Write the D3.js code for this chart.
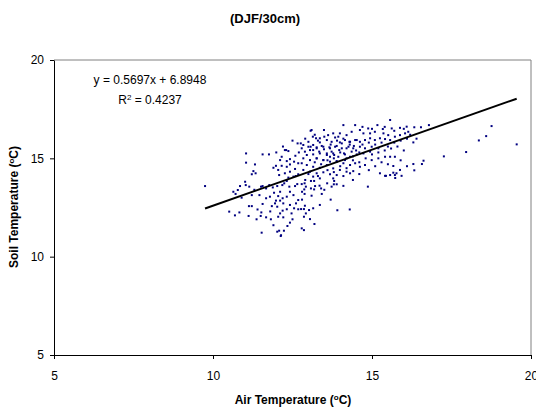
<!DOCTYPE html>
<html>
<head>
<meta charset="utf-8">
<script src="https://cdn.jsdelivr.net/npm/d3@7/dist/d3.min.js"></script>
<style>
  body { margin: 0; background: #fff; }
  text { font-family: "Liberation Sans", Arial, sans-serif; }
</style>
</head>
<body>
<div id="main"></div>
<script>
const ctx = {
    WIDTH: 536,
    HEIGHT: 413,
};

// axis ticks
const xTicks = [5, 10, 15, 20];
const yTicks = [5, 10, 15, 20];

// linear trend shown on the chart: y = slope*x + intercept
const trendCoef = [0.5697, 6.8948];
const rSquared = 0.4237;

// [air temperature, soil temperature]
const obs = [
    [9.75, 13.59], [10.51, 12.29], [10.69, 12.10], [10.83, 12.25], [10.64, 13.30],
    [10.71, 13.19], [10.78, 13.39], [10.85, 13.59], [11.01, 13.81], [11.03, 13.64],
    [11.14, 13.56], [11.22, 13.13], [11.46, 13.13], [11.51, 13.56], [11.56, 13.59],
    [11.67, 13.47], [11.77, 13.64], [11.88, 13.52], [11.92, 13.25], [12.02, 13.59],
    [12.11, 13.30], [12.18, 13.64], [12.24, 13.73], [12.32, 13.85], [12.40, 13.56],
    [12.42, 13.30], [12.53, 13.13], [12.58, 13.59], [12.65, 13.69], [12.68, 12.88],
    [11.79, 13.05], [11.67, 12.97], [12.05, 13.08], [12.11, 12.85], [12.21, 12.71],
    [12.42, 12.63], [11.98, 12.85], [12.19, 12.97], [12.32, 13.05], [11.13, 12.57],
    [11.22, 12.57], [11.12, 12.07], [11.37, 11.90], [11.50, 12.07], [11.52, 12.25],
    [11.56, 12.68], [11.67, 12.00], [11.82, 11.90], [11.85, 12.57], [11.95, 12.71],
    [12.02, 12.54], [12.11, 12.20], [12.19, 12.34], [12.32, 12.41], [12.47, 12.20],
    [12.55, 12.46], [12.68, 12.41], [12.61, 12.71], [12.05, 12.03], [12.21, 12.00],
    [11.53, 11.22], [12.02, 11.27], [12.08, 11.32], [12.13, 11.05], [12.23, 11.32],
    [12.34, 11.56], [12.42, 11.73], [12.14, 11.09],
    [11.04, 15.25], [11.04, 14.78], [11.32, 14.69], [11.56, 15.20], [11.76, 15.20],
    [11.99, 15.30], [12.26, 15.42], [12.37, 15.37], [12.66, 15.76], [12.59, 15.13],
    [12.42, 14.96], [12.32, 14.86], [12.16, 15.08], [12.11, 14.91], [11.90, 14.52],
    [11.98, 14.62], [12.16, 14.62], [12.32, 14.57], [12.42, 14.69], [12.55, 14.83],
    [12.68, 14.75], [12.08, 14.15], [12.26, 14.24], [12.42, 14.32], [12.58, 14.46],
    [11.27, 14.35], [11.22, 14.19], [11.34, 14.24], [12.05, 14.41], [12.37, 14.02],
    [12.53, 14.07], [12.68, 14.19], [12.76, 15.76], [12.30, 15.42], [13.07, 16.40],
    [12.79, 13.69], [12.88, 13.73], [13.08, 13.85], [13.18, 13.85], [12.80, 13.30],
    [12.87, 13.42], [12.92, 13.56], [12.88, 13.19], [13.08, 13.47], [13.18, 13.42],
    [13.21, 13.59], [13.35, 13.61], [13.40, 13.47], [13.42, 13.19], [13.59, 13.73],
    [13.73, 13.56], [13.80, 13.68], [13.89, 13.68], [13.81, 13.85], [14.87, 13.56],
    [12.89, 12.59], [12.77, 12.42], [12.86, 12.42], [13.02, 12.37], [13.15, 12.46],
    [13.36, 12.63], [13.91, 12.36], [12.92, 12.20], [12.86, 12.03], [13.05, 11.91],
    [13.19, 11.66], [12.79, 11.44], [12.86, 11.35],
    [15.57, 16.95], [15.17, 16.69], [14.47, 16.69], [14.10, 16.69], [14.88, 16.52],
    [15.34, 16.49], [15.62, 16.52], [15.88, 16.55], [16.09, 16.61], [13.49, 16.44],
    [13.10, 16.44], [13.24, 16.02], [13.78, 16.27], [13.94, 16.10], [14.20, 16.18],
    [14.36, 16.35], [14.62, 16.44], [14.73, 16.27], [14.94, 16.27], [15.09, 16.35],
    [15.36, 16.27], [15.51, 16.18], [15.72, 16.10], [15.88, 16.18], [16.04, 16.27],
    [16.14, 16.35], [15.25, 16.02], [15.41, 15.98], [15.57, 15.93], [15.09, 15.93],
    [14.94, 16.02], [14.78, 15.93], [14.62, 15.84], [14.47, 15.93], [14.31, 15.84],
    [14.15, 15.93], [13.99, 15.81], [13.73, 15.84], [13.58, 15.93], [13.36, 15.81],
    [13.15, 15.68], [13.00, 15.59], [12.84, 15.68], [12.79, 15.51], [13.05, 15.42],
    [13.26, 15.51], [13.47, 15.59], [13.68, 15.51], [13.84, 15.59], [14.05, 15.51],
    [14.26, 15.59], [14.41, 15.51], [14.62, 15.59], [14.78, 15.51], [14.99, 15.59],
    [15.20, 15.51], [14.94, 15.34], [14.73, 15.25], [14.52, 15.20], [15.41, 15.08],
    [15.57, 15.08], [15.72, 15.08], [15.20, 15.00], [14.99, 14.91], [12.89, 15.34],
    [12.95, 15.17], [13.15, 15.20], [13.36, 15.25], [13.58, 15.17], [13.78, 15.25],
    [13.94, 15.08], [14.15, 15.20], [14.31, 15.08], [12.84, 15.00], [13.05, 14.91],
    [13.26, 15.00], [13.47, 14.91], [13.68, 14.83], [13.89, 14.86], [14.10, 14.75],
    [14.31, 14.66], [14.47, 14.75], [14.62, 14.57], [14.78, 14.66], [12.79, 14.75],
    [12.95, 14.66], [13.15, 14.57], [13.36, 14.52], [13.58, 14.66], [13.78, 14.49],
    [13.99, 14.41], [14.20, 14.32], [14.41, 14.35], [12.84, 14.41], [13.05, 14.32],
    [13.26, 14.24], [13.47, 14.29], [13.68, 14.19], [13.89, 14.15], [13.15, 14.07],
    [13.36, 13.98], [13.78, 13.98], [15.41, 14.11], [15.57, 14.15], [15.72, 14.15],
    [15.25, 14.24], [15.88, 14.41], [15.77, 14.24],
    [13.07, 15.59], [13.15, 15.42], [13.26, 15.56], [13.34, 15.34], [13.42, 15.63],
    [13.49, 15.46], [13.58, 15.25], [13.66, 15.56], [13.73, 15.34], [13.81, 15.17],
    [13.89, 15.63], [13.97, 15.42], [14.05, 15.76], [14.12, 15.25], [14.20, 15.51],
    [14.29, 15.84], [14.36, 15.34], [14.43, 15.63], [14.52, 15.93], [13.26, 15.00],
    [13.47, 14.91], [13.68, 15.08], [13.89, 14.83], [14.15, 14.91], [13.00, 15.84],
    [13.14, 16.10], [13.36, 16.02], [13.62, 16.18], [13.84, 16.06], [13.99, 16.27],
    [16.33, 16.58], [16.54, 16.58], [16.79, 16.69], [16.30, 15.81], [18.76, 16.64],
    [18.59, 16.13], [18.36, 15.91], [19.55, 15.71], [17.96, 15.32], [17.26, 15.10],
    [16.62, 14.88], [16.57, 14.71], [16.30, 14.71], [16.33, 14.39], [15.44, 14.11],
    [15.67, 14.27], [15.73, 14.00], [15.93, 14.11], [15.67, 14.61], [14.31, 14.24],
    [13.30, 15.90], [13.50, 16.10], [13.70, 15.70], [13.90, 15.90], [14.10, 16.00],
    [14.30, 15.70], [14.50, 15.40], [14.70, 15.70], [14.90, 15.80], [15.10, 15.70],
    [15.30, 15.80], [15.50, 15.60], [15.70, 15.80], [15.90, 15.90], [16.10, 16.00],
    [14.00, 15.30], [14.20, 15.00], [14.40, 15.10], [14.60, 15.30], [14.80, 15.00],
    [15.00, 15.20], [15.20, 15.30], [15.40, 15.40], [15.60, 15.50], [15.80, 15.60],
    [13.20, 14.80], [13.40, 14.70], [13.60, 14.90], [13.80, 15.00], [14.00, 14.60],
    [14.20, 14.50], [14.40, 14.90], [14.60, 14.80], [14.90, 14.40], [15.10, 14.60],
    [15.30, 14.80], [15.50, 14.70], [13.00, 14.20], [13.30, 14.10], [13.60, 14.40],
    [13.80, 14.30], [14.10, 14.10], [14.40, 13.90], [14.60, 14.20], [12.90, 16.00],
    [13.20, 16.20], [14.70, 16.60], [15.00, 16.50], [15.40, 16.60], [15.70, 16.40],
    [16.00, 16.50], [16.20, 16.20], [16.40, 16.00], [16.00, 15.40], [15.90, 14.90],
    [16.10, 14.60], [12.70, 15.30], [12.50, 15.90], [12.20, 15.60], [12.60, 14.10],
    [12.90, 13.90], [13.50, 13.40], [13.70, 12.90], [14.10, 13.60], [14.30, 12.40],
    [12.50, 11.90], [11.90, 11.60], [11.80, 12.30], [11.40, 12.40], [10.90, 13.00],
    [11.30, 13.40], [12.80, 12.90], [13.10, 13.10]
];

const X = d3.scaleLinear().domain([5, 20]).range([54, 531]);
const Y = d3.scaleLinear().domain([5, 20]).range([355, 60]);

function createViz(){
    let svgEl = d3.select("#main").append("svg")
        .attr("width", ctx.WIDTH)
        .attr("height", ctx.HEIGHT);

    // title
    svgEl.append("text")
        .attr("x", 265).attr("y", 23)
        .attr("text-anchor", "middle")
        .style("font-size", "13px").style("font-weight", "bold")
        .text("(DJF/30cm)");

    // plot frame: grey top and right edges
    svgEl.append("path")
        .attr("d", `M${X(5)},${Y(20)}H${X(20)}V${Y(5)}`)
        .attr("fill", "none").attr("stroke", "#808080").attr("stroke-width", 1);

    // axes
    let xAxis = svgEl.append("g")
        .attr("transform", `translate(0,${Y(5)})`)
        .call(d3.axisBottom(X).tickValues(xTicks).tickSize(4).tickPadding(12).tickSizeOuter(0));
    let yAxis = svgEl.append("g")
        .attr("transform", `translate(${X(5)},0)`)
        .call(d3.axisLeft(Y).tickValues(yTicks).tickSize(4).tickPadding(6).tickSizeOuter(0));
    [xAxis, yAxis].forEach(g => {
        g.select(".domain").attr("stroke", "#000");
        g.selectAll(".tick line").attr("stroke", "#000");
        g.selectAll(".tick text")
            .attr("fill", "#000")
            .style("font-family", '"Liberation Sans", Arial, sans-serif')
            .style("font-size", "12px");
    });

    // axis titles
    let xt = svgEl.append("text")
        .attr("x", 293).attr("y", 404)
        .attr("text-anchor", "middle")
        .style("font-size", "12px").style("font-weight", "bold");
    xt.append("tspan").text("Air Temperature (");
    xt.append("tspan").attr("baseline-shift", "super").style("font-size", "8px").text("o");
    xt.append("tspan").text("C)");

    let yt = svgEl.append("text")
        .attr("transform", "translate(18,207) rotate(-90)")
        .attr("text-anchor", "middle")
        .style("font-size", "12px").style("font-weight", "bold");
    yt.append("tspan").text("Soil Temperature (");
    yt.append("tspan").attr("baseline-shift", "super").style("font-size", "8px").text("o");
    yt.append("tspan").text("C)");

    // points
    svgEl.append("g").attr("id", "pointsG")
        .selectAll("rect")
        .data(obs)
        .enter()
        .append("rect")
        .attr("x", d => X(d[0]) - 1)
        .attr("y", d => Y(d[1]) - 1)
        .attr("width", 2)
        .attr("height", 2)
        .attr("fill", "#000080");

    // trend line across the data range
    let xr = d3.extent(obs, d => d[0]);
    let trendLine = d3.line()
        .x(d => X(d))
        .y(d => Y(trendCoef[0] * d + trendCoef[1]));
    svgEl.append("path")
        .datum(xr)
        .attr("d", trendLine)
        .attr("fill", "none")
        .attr("stroke", "#000")
        .attr("stroke-width", 2);

    // equation and R squared
    svgEl.append("text")
        .attr("x", 150).attr("y", 84)
        .attr("text-anchor", "middle")
        .style("font-size", "12px")
        .text(`y = ${trendCoef[0]}x + ${trendCoef[1]}`);
    let rt = svgEl.append("text")
        .attr("x", 150).attr("y", 104)
        .attr("text-anchor", "middle")
        .style("font-size", "12px");
    rt.append("tspan").text("R");
    rt.append("tspan").attr("baseline-shift", "super").style("font-size", "8px").text("2");
    rt.append("tspan").text(` = ${rSquared}`);
}

createViz();
</script>
</body>
</html>
